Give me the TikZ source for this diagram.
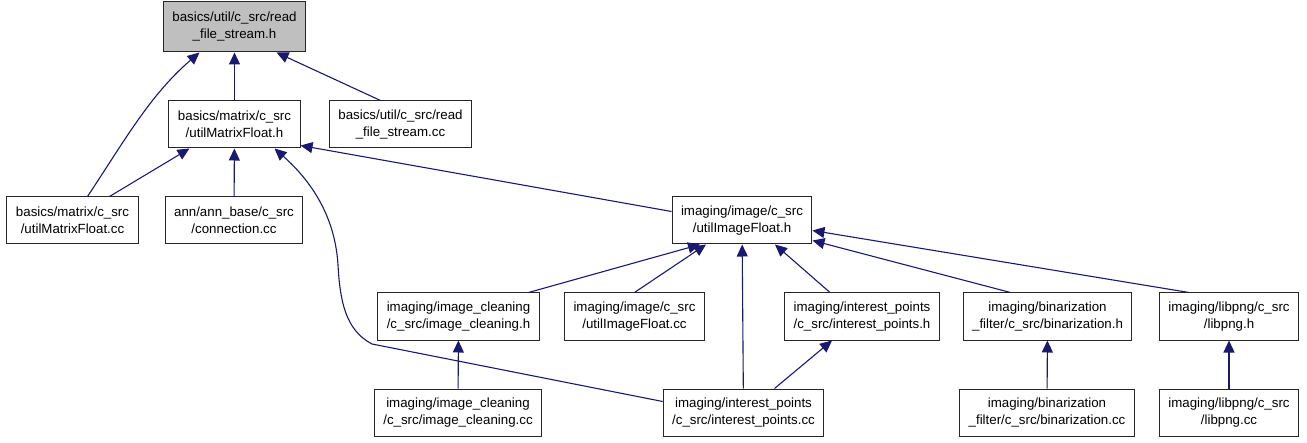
\documentclass[tikz,border=0pt]{standalone}
\usepackage{fontspec}
\setmainfont{Liberation Sans}
\usetikzlibrary{arrows.meta}
\definecolor{edgeblue}{HTML}{191970}
\definecolor{rootgray}{HTML}{BFBFBF}
\tikzset{
  file/.style={draw=black!85, line width=1bp, fill=white, align=center,
    inner xsep=9bp, minimum height=47bp,
    font=\fontsize{13.3bp}{17bp}\selectfont},
  dep/.style={draw=edgeblue, line width=1.1bp,
    -{Triangle[length=12bp,width=11bp]}, edgeblue}
}
\begin{document}
\begin{tikzpicture}[x=1bp, y=-1bp]
  \useasboundingbox (0,0) rectangle (1307,443);
  % files
  \node[file, fill=rootgray, minimum height=50bp] (rfsh) at (234.5,27) {basics/util/c\_src/read\\\_file\_stream.h};
  \node[file] (umfh)  at (234.5,124.5) {basics/matrix/c\_src\\/utilMatrixFloat.h};
  \node[file] (rfscc) at (400.5,124.5) {basics/util/c\_src/read\\\_file\_stream.cc};
  \node[file] (umfcc) at (72.5,220.5)  {basics/matrix/c\_src\\/utilMatrixFloat.cc};
  \node[file] (conn)  at (234,220.5)   {ann/ann\_base/c\_src\\/connection.cc};
  \node[file] (uifh)  at (742,220.5)   {imaging/image/c\_src\\/utilImageFloat.h};
  \node[file] (ich)   at (458.5,316.5) {imaging/image\_cleaning\\/c\_src/image\_cleaning.h};
  \node[file] (uifcc) at (634.5,316.5) {imaging/image/c\_src\\/utilImageFloat.cc};
  \node[file] (iph)   at (862,316.5)   {imaging/interest\_points\\/c\_src/interest\_points.h};
  \node[file] (binh)  at (1047.5,316.5) {imaging/binarization\\\_filter/c\_src/binarization.h};
  \node[file] (pngh)  at (1229,316.5)  {imaging/libpng/c\_src\\/libpng.h};
  \node[file] (iccc)  at (458,412.5)   {imaging/image\_cleaning\\/c\_src/image\_cleaning.cc};
  \node[file] (ipcc)  at (743.5,412.5) {imaging/interest\_points\\/c\_src/interest\_points.cc};
  \node[file] (bincc) at (1047,412.5)  {imaging/binarization\\\_filter/c\_src/binarization.cc};
  \node[file] (pngcc) at (1229,412.5)  {imaging/libpng/c\_src\\/libpng.cc};
  % includes
  \draw[dep] ([xshift=15bp]umfcc.north) .. controls (125,140) and (150,95) .. ([xshift=-35bp]rfsh.south);
  \draw[dep] (umfh) -- (rfsh);
  \draw[dep] ([xshift=-20bp]rfscc.north) -- ([xshift=42bp]rfsh.south);
  \draw[dep] ([xshift=37bp]umfcc.north) -- ([xshift=-45bp]umfh.south);
  \draw[dep] (conn) -- (umfh);
  \draw[dep] ([yshift=9bp]uifh.west) -- ([yshift=3bp]umfh.south east);
  \draw[dep] ([yshift=11bp]ipcc.west) -- (372,344) .. controls (345,330) and (340,300) .. (338,265)
    .. controls (335,215) and (310,180) .. ([xshift=40bp]umfh.south);
  \draw[dep] ([xshift=70bp]ich.north) -- ([xshift=-42bp]uifh.south);
  \draw[dep] (uifcc.north) -- ([xshift=-36bp]uifh.south);
  \draw[dep] (ipcc) -- (uifh);
  \draw[dep] ([xshift=-32bp]iph.north) -- ([xshift=33bp]uifh.south);
  \draw[dep] ([xshift=-37bp]binh.north) -- ([yshift=4bp]uifh.south east);
  \draw[dep] ([xshift=-40bp]pngh.north) -- ([yshift=-10bp]uifh.east);
  \draw[dep] (iccc) -- (ich);
  \draw[dep] ([xshift=31bp]ipcc.north) -- ([xshift=-30bp]iph.south);
  \draw[dep] (bincc) -- (binh);
  \draw[dep] (pngcc) -- (pngh);
\end{tikzpicture}
\end{document}
